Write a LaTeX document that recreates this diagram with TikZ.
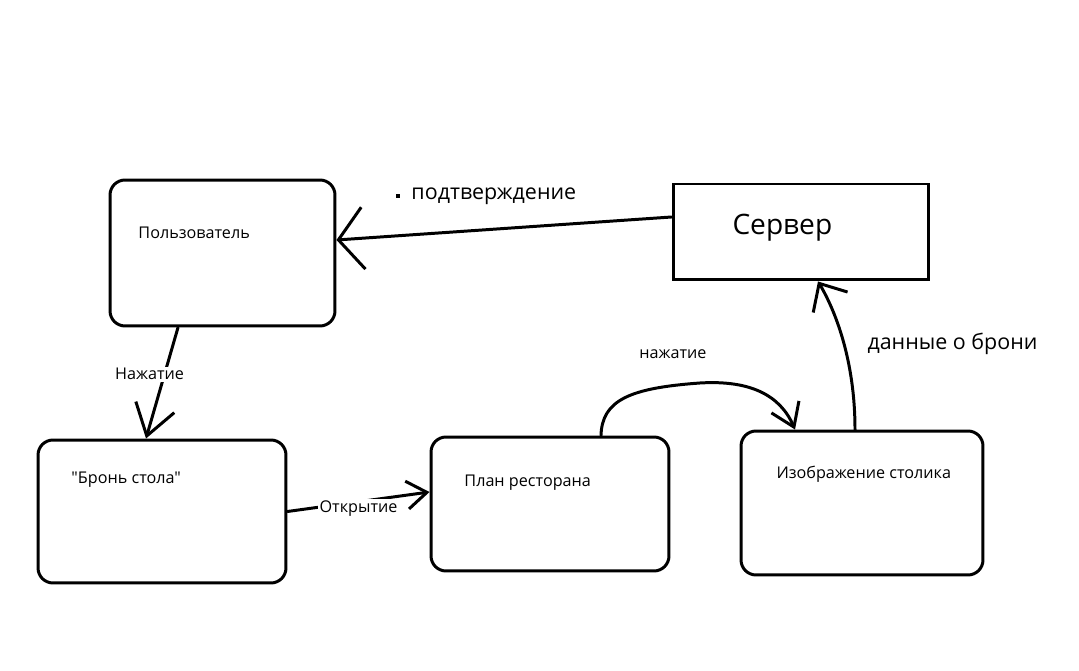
\documentclass[tikz,border=0pt]{standalone}
\usepackage{fontspec}
\newfontfamily\boxfont{Open Sans}
\usetikzlibrary{arrows.meta}

\begin{document}
\begin{tikzpicture}[x=0.02cm,y=-0.02cm,line width=1.7pt,line cap=round,
  rbox/.style={draw,rounded corners=0.3cm,inner sep=0pt},
  small/.style={font=\boxfont\fontsize{9.2}{11}\selectfont,anchor=west,inner sep=0pt},
  big/.style={font=\boxfont\fontsize{12.2}{14}\selectfont,anchor=west,inner sep=0pt},
  cut/.style={font=\boxfont\fontsize{9.2}{11}\selectfont,fill=white,inner sep=1pt}]
\useasboundingbox (0,0) rectangle (1079,671);
\node[rbox,minimum width=4.5cm,minimum height=2.92cm] (user) at (222.5,253) {};
\node[draw,inner sep=0pt,minimum width=5.12cm,minimum height=1.92cm] (server) at (801,232) {};
\node[rbox,minimum width=4.96cm,minimum height=2.86cm] (bron) at (162,511.5) {};
\node[rbox,minimum width=4.76cm,minimum height=2.68cm] (plan) at (550,504) {};
\node[rbox,minimum width=4.84cm,minimum height=2.88cm] (izo) at (862,503) {};

\node[small] (tuser) at (137,233) {Пользователь};
\node[font=\boxfont\fontsize{16}{18}\selectfont,anchor=west,inner sep=0pt] (tserver) at (731,228) {Сервер};
\node[small] (tbron) at (70,480) {"Бронь стола"};
\node[small] (tplan) at (463,483) {План ресторана};
\node[small] (tizo) at (775,474) {Изображение столика};

\fill (396,194) rectangle (400,198);
\node[big] (tpodt) at (410,196) {подтверждение};
\node[small] (tnaj) at (638,354) {нажатие};
\node[big] (tdata) at (866,344) {данные о брони};

\draw[-{Straight Barb[length=0.5cm,width=1.24cm]}] ([yshift=0.3cm]server.west) -- ([yshift=0.26cm]user.east);
\draw[-{Straight Barb[length=0.6cm,width=0.8cm]}] ([xshift=-0.89cm]user.south) -- node[cut,pos=0.42,xshift=-0.3cm] (lnaj) {Нажатие} ([xshift=-0.32cm]bron.north);
\draw[-{Straight Barb[length=0.4cm,width=0.56cm]}] (bron.east) -- node[cut,yshift=-0.14cm] (lotk) {Открытие} ([yshift=0.24cm]plan.west);
\draw[-{Straight Barb[length=0.44cm,width=0.6cm]}] ([xshift=1.02cm]plan.north) .. controls (602,400) and (630,388) .. (700,383) .. controls (750,380) and (780,395) .. ([xshift=-1.34cm]izo.north);
\draw[-{Straight Barb[length=0.44cm,width=0.8cm]}] ([xshift=-0.14cm]izo.north) .. controls (855,360) and (835,310) .. ([xshift=0.34cm]server.south);
\end{tikzpicture}
\end{document}
